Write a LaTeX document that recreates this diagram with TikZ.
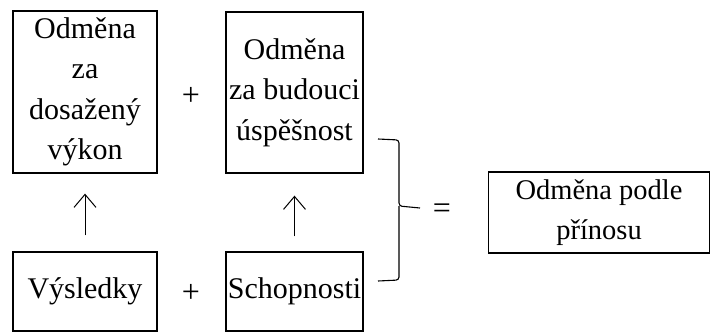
\documentclass[tikz,border=0pt]{standalone}
\usepackage{fontspec}
\setmainfont{Liberation Serif}
\usetikzlibrary{arrows.meta}
\begin{document}
\begin{tikzpicture}[x=1pt,y=-1pt,
  box/.style={draw, line width=1.3pt, align=center, inner sep=0pt,
    font=\fontsize{30}{40.5}\selectfont},
  sym/.style={font=\fontsize{32}{36}\selectfont, inner sep=0pt},
  up/.style={-{Straight Barb[length=13pt,width=22pt]}, line width=1pt}]
\useasboundingbox (0,0) rectangle (711,334);
\node[box, minimum width=144pt, minimum height=162pt] (b1) at (85,92) {Odměna\\za\\dosažený\\výkon};
\node[box, minimum width=137pt, minimum height=161pt] (b2) at (294.5,92.5) {Odměna\\za budouci\\úspěšnost};
\node[box, minimum width=144pt, minimum height=79pt] (b3) at (85,291.5) {Výsledky};
\node[box, minimum width=137pt, minimum height=79pt] (b4) at (294.5,291.5) {Schopnosti};
\node[box, minimum width=221pt, minimum height=81pt, font=\fontsize{28.5}{40}\selectfont] (b5) at (599,212.5) {Odměna podle\\přínosu};
\node[sym] (p1) at (191,96) {+};
\node[sym] (p2) at (191,293) {+};
\node[sym] (eq) at (442,211) {=};
\draw[up, shorten <=16pt, shorten >=20pt] (b3.north) -- (b1.south);
\draw[up, shorten <=15pt, shorten >=22pt] (b4.north) -- (b2.south);
\draw[line width=1.1pt, rounded corners=3pt] (378,139) -- (399,140) -- (399,206) -- (420,208);
\draw[line width=1.1pt, rounded corners=3pt] (399,206) -- (399,280) -- (378,281);
\end{tikzpicture}
\end{document}
